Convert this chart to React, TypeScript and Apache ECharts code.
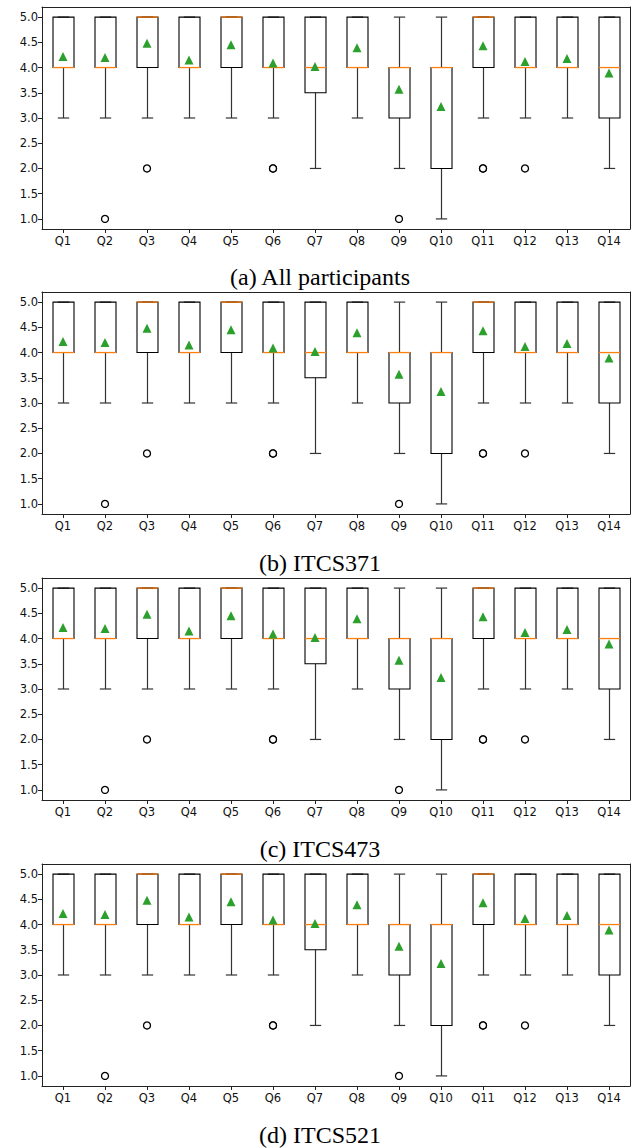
import React, { useEffect, useRef } from "react";
import * as echarts from "echarts";

const categories = ["Q1", "Q2", "Q3", "Q4", "Q5", "Q6", "Q7", "Q8", "Q9", "Q10", "Q11", "Q12", "Q13", "Q14"];
const whiskerLow = [3, 3, 3, 3, 3, 3, 2, 3, 2, 1, 3, 3, 3, 2];
const quartile1 = [4, 4, 4, 4, 4, 4, 3.5, 4, 3, 2, 4, 4, 4, 3];
const medians = [4, 4, 5, 4, 5, 4, 4, 4, 4, 4, 5, 4, 4, 4];
const quartile3 = [5, 5, 5, 5, 5, 5, 5, 5, 4, 4, 5, 5, 5, 5];
const whiskerHigh = [5, 5, 5, 5, 5, 5, 5, 5, 5, 5, 5, 5, 5, 5];
const means = [4.22, 4.2, 4.48, 4.15, 4.45, 4.09, 4.02, 4.39, 3.57, 3.23, 4.43, 4.12, 4.18, 3.89];
const outliers: [string, number][] = [
  ["Q2", 1], ["Q3", 2], ["Q6", 2], ["Q6", 2], ["Q9", 1], ["Q11", 2], ["Q11", 2], ["Q12", 2],
];
const yTicks = [1.0, 1.5, 2.0, 2.5, 3.0, 3.5, 4.0, 4.5, 5.0];
const captions = ["(a) All participants", "(b) ITCS371", "(c) ITCS473", "(d) ITCS521"];

const panelTops = [7, 292, 578, 864];
const plotHeight = 222;
const captionYs = [277, 563, 849, 1135];

export default function App() {
  const ref = useRef<HTMLDivElement>(null);
  useEffect(() => {
    if (!ref.current) return;
    const chart = echarts.init(ref.current, undefined, { renderer: "svg" });
    const boxData = categories.map((_, i) => [i, whiskerLow[i], quartile1[i], medians[i], quartile3[i], whiskerHigh[i]]);
    const grids: any[] = [];
    const xAxes: any[] = [];
    const yAxes: any[] = [];
    const series: any[] = [];
    panelTops.forEach((top, p) => {
      grids.push({ left: 42, right: 6, top, height: plotHeight, show: false });
      xAxes.push({
        type: "category",
        gridIndex: p,
        data: categories,
        boundaryGap: true,
        axisLine: { show: true, lineStyle: { color: "#222", width: 1 } },
        axisTick: { show: true, alignWithLabel: true, length: 4, lineStyle: { color: "#222" } },
        axisLabel: { color: "#111", fontSize: 11.5, fontFamily: "DejaVu Sans", margin: 6 },
        splitLine: { show: false },
      });
      // top spine
      xAxes.push({
        type: "category",
        gridIndex: p,
        data: categories,
        position: "top",
        axisLine: { show: true, lineStyle: { color: "#222", width: 1 } },
        axisTick: { show: false },
        axisLabel: { show: false },
        splitLine: { show: false },
      });
      yAxes.push({
        type: "value",
        gridIndex: p,
        min: 0.8,
        max: 5.2,
        axisLine: { show: true, lineStyle: { color: "#222", width: 1 } },
        axisTick: { show: true, length: 4, customValues: yTicks, lineStyle: { color: "#222" } },
        axisLabel: {
          color: "#111",
          fontSize: 11.5,
          fontFamily: "DejaVu Sans",
          margin: 4,
          customValues: yTicks,
          formatter: (v: number) => v.toFixed(1),
        },
        splitLine: { show: false },
      });
      yAxes.push({
        type: "value",
        gridIndex: p,
        min: 0.8,
        max: 5.2,
        position: "right",
        axisLine: { show: true, lineStyle: { color: "#222", width: 1 } },
        axisTick: { show: false },
        axisLabel: { show: false },
        splitLine: { show: false },
      });
      const xi = p * 2;
      const yi = p * 2;
      series.push({
        type: "custom",
        xAxisIndex: xi,
        yAxisIndex: yi,
        data: boxData,
        encode: { x: 0, y: [1, 2, 3, 4, 5] },
        z: 2,
        renderItem: (params: any, api: any) => {
          const idx = api.value(0);
          const pLow = api.coord([idx, api.value(1)]);
          const pQ1 = api.coord([idx, api.value(2)]);
          const pMed = api.coord([idx, api.value(3)]);
          const pQ3 = api.coord([idx, api.value(4)]);
          const pHigh = api.coord([idx, api.value(5)]);
          const bw = api.size([1, 0])[0];
          const half = bw * 0.25;
          const cap = bw * 0.135;
          const x = Math.round(pQ1[0]) + 0.5;
          const stroke = { stroke: "#333", lineWidth: 1.2 };
          return {
            type: "group",
            children: [
              { type: "line", shape: { x1: x, y1: pQ1[1], x2: x, y2: pLow[1] }, style: stroke },
              { type: "line", shape: { x1: x, y1: pQ3[1], x2: x, y2: pHigh[1] }, style: stroke },
              { type: "line", shape: { x1: x - cap, y1: pLow[1], x2: x + cap, y2: pLow[1] }, style: stroke },
              { type: "line", shape: { x1: x - cap, y1: pHigh[1], x2: x + cap, y2: pHigh[1] }, style: stroke },
              {
                type: "rect",
                shape: { x: x - half, y: pQ3[1], width: half * 2, height: pQ1[1] - pQ3[1] },
                style: { fill: "none", stroke: "#000", lineWidth: 1.1 },
              },
              {
                type: "line",
                shape: { x1: x - half, y1: pMed[1], x2: x + half, y2: pMed[1] },
                style: { stroke: "#ff7f0e", lineWidth: 1.3 },
              },
            ],
          };
        },
      });
      series.push({
        type: "scatter",
        xAxisIndex: xi,
        yAxisIndex: yi,
        data: outliers,
        symbol: "circle",
        symbolSize: 7,
        itemStyle: { color: "#fff", borderColor: "#000", borderWidth: 1.3, opacity: 1 },
        z: 3,
      });
      series.push({
        type: "scatter",
        xAxisIndex: xi,
        yAxisIndex: yi,
        data: categories.map((c, i) => [c, means[i]]),
        symbol: "triangle",
        symbolSize: 9,
        itemStyle: { color: "#2ca02c", opacity: 1 },
        z: 4,
      });
    });
    chart.setOption({
      animation: false,
      backgroundColor: "#fff",
      grid: grids,
      xAxis: xAxes,
      yAxis: yAxes,
      series,
      graphic: captions.map((t, i) => ({
        type: "text",
        x: 320,
        y: captionYs[i],
        style: {
          text: t,
          fontFamily: "Liberation Serif",
          fontSize: 24,
          fill: "#000",
          textAlign: "center",
          textVerticalAlign: "middle",
        },
      })),
    });
    return () => chart.dispose();
  }, []);
  return <div ref={ref} style={{ position: "absolute", left: 0, top: 0, width: 636, height: 1148 }} />;
}
